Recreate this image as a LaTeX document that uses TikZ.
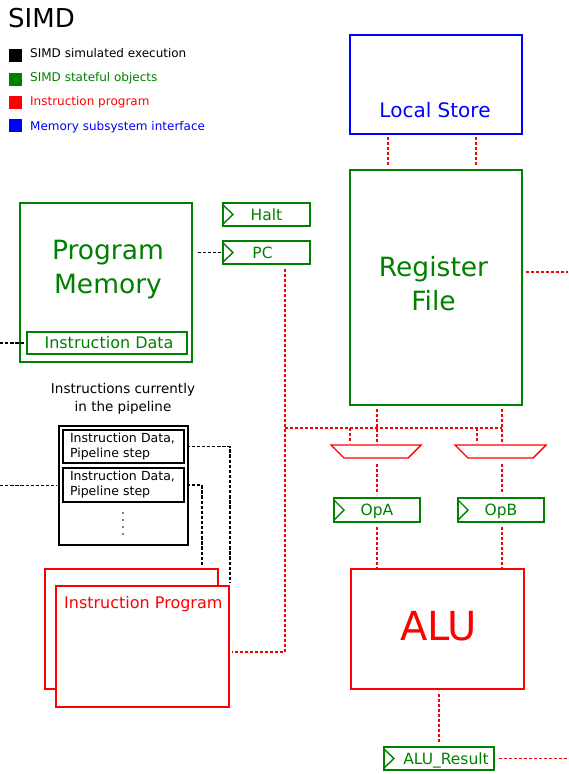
\documentclass[tikz,border=0pt]{standalone}
\usepackage{fontspec}
\setmainfont{DejaVu Sans}
\usetikzlibrary{calc}
\definecolor{objgreen}{RGB}{0,128,0}
\definecolor{progred}{RGB}{255,0,0}
\definecolor{memblue}{RGB}{0,0,255}

\begin{document}
\begin{tikzpicture}[x=1pt,y=-1pt,
  box/.style={draw, line width=1.4pt, inner sep=0pt},
  statebox/.style={box, draw=objgreen, text=objgreen},
  progbox/.style={box, draw=progred, text=progred},
  reg/.style={statebox, minimum width=87pt, minimum height=23pt,
    font=\fontsize{15.5}{18}\selectfont, text height=11.3pt, text depth=0pt,
    path picture={\draw[objgreen, line width=1.4pt]
      ([yshift=-2pt]path picture bounding box.north west) --
      ([xshift=10pt]path picture bounding box.west) --
      ([yshift=2pt]path picture bounding box.south west);}},
  pipestep/.style={box, draw=black, line width=1.3pt, minimum width=121pt,
    minimum height=33pt, align=left, text width=107pt, inner xsep=7pt,
    font=\fontsize{12.5}{15}\selectfont},
  legendtext/.style={anchor=base west, inner sep=0pt, font=\fontsize{12}{14}\selectfont},
  reddot/.style={draw=progred, line width=1.6pt, dash pattern=on 3pt off 2pt},
  blackdash/.style={draw=black, line width=1.7pt, dash pattern=on 3.3pt off 1.8pt},
]
\useasboundingbox (0,0) rectangle (568,774);

% legend
\node[anchor=base west, inner sep=0pt, font=\fontsize{26}{30}\selectfont] (title) at (8,27) {SIMD};
\fill[black]    (9,49)  rectangle ++(13,13);
\fill[objgreen] (9,73)  rectangle ++(13,13);
\fill[progred]  (9,96)  rectangle ++(13,13);
\fill[memblue]  (9,119) rectangle ++(13,13);
\node[legendtext] (lg1) at (30,57) {SIMD simulated execution};
\node[legendtext, text=objgreen] (lg2) at (30,81.5) {SIMD stateful objects};
\node[legendtext, text=progred] (lg3) at (30,105) {Instruction program};
\node[legendtext, text=memblue] (lg4) at (30,130) {Memory subsystem interface};

% memory side
\node[box, draw=memblue, minimum width=172pt, minimum height=99pt] (LS) at (436,84.5) {};
\node[text=memblue, font=\fontsize{20}{24}\selectfont] (LSlabel) at (435,110.4) {Local Store};

\node[statebox, minimum width=172pt, minimum height=235pt] (RF) at (436,287.5) {};
\node[text=objgreen, align=center, font=\fontsize{26.5}{34}\selectfont] (RFlabel) at (433.5,283.5) {Register\\File};

\node[statebox, minimum width=172pt, minimum height=159pt] (PM) at (106,282.5) {};
\node[text=objgreen, align=center, font=\fontsize{26.5}{34}\selectfont] (PMlabel) at (108,270) {Program\\Memory};
\node[statebox, minimum width=160pt, minimum height=22pt, font=\fontsize{16}{19}\selectfont,
  text height=11.7pt, text depth=0pt] (ID) at (107,343) {\hspace*{4pt}Instruction Data};

% registers
\node[reg] (Halt) at (266.5,214.5) {Halt};
\node[reg] (PC) at (266.5,252.5) {PC\hspace*{8pt}};
\node[reg, minimum width=86pt, minimum height=24pt] (OpA) at (377,510) {OpA};
\node[reg, minimum width=86pt, minimum height=24pt] (OpB) at (501,510) {OpB};
\node[reg, minimum width=110pt] (Res) at (439,758.5) {\hspace*{14pt}ALU\_Result};

% ALU
\node[progbox, minimum width=173pt, minimum height=120pt, font=\fontsize{40}{48}\selectfont,
  text height=29.2pt, text depth=6pt] (ALU) at (437.5,629) {\hspace*{2pt}ALU};

% instruction program (stacked)
\node[progbox, minimum width=173pt, minimum height=120pt] (IPb) at (131.5,629) {};
\node[progbox, fill=white, minimum width=173pt, minimum height=121pt] (IPf) at (142.5,646.5) {};
\node[text=progred, anchor=base west, inner sep=0pt, font=\fontsize{16}{19}\selectfont] (IPlabel) at (64,608) {Instruction Program};

% pipeline
\node[align=center, font=\fontsize{13.5}{18}\selectfont] (PLlabel) at (123,399) {Instructions currently\\in the pipeline};
\node[box, draw=black, line width=1.3pt, minimum width=129pt, minimum height=119pt] (PL) at (123.5,485.5) {};
\node[pipestep] (S1) at (123.5,446.5) {Instruction Data,\\Pipeline step};
\node[pipestep, minimum height=34pt] (S2) at (123.5,485) {Instruction Data,\\Pipeline step};
\foreach \yy in {513,520,527,534} \fill (123,\yy) circle (0.8pt);

% operand multiplexers
\coordinate (muxA) at (376,451.5);
\coordinate (muxB) at (500.5,451.5);
\draw[draw=progred, line width=1.4pt] ([shift={(-45,-6.5)}]muxA) -- ++(90,0) -- ++(-13,13) -- ++(-64,0) -- cycle;
\draw[draw=progred, line width=1.4pt] ([shift={(-45.5,-6.5)}]muxB) -- ++(91,0) -- ++(-13,13) -- ++(-65,0) -- cycle;
\coordinate (muxAin1) at (350,445);
\coordinate (muxAin2) at (377,445);
\coordinate (muxBin1) at (477,445);
\coordinate (muxBin2) at (502,445);
\coordinate (muxAout) at (377,458);
\coordinate (muxBout) at (502,458);

% free ends and turns
\coordinate (leftedge) at (0,0);
\coordinate (rightedge) at (568,0);
\coordinate (rfout) at (568,272);
\coordinate (busL) at (285,428);
\coordinate (busR) at (502,428);
\coordinate (pcturn) at (285,652);

% red connectors
\draw[reddot, shorten <=2pt, shorten >=4pt] ([xshift=-48pt]LS.south) -- ([xshift=-48pt]RF.north);
\draw[reddot, shorten <=2pt, shorten >=4pt] ([xshift=40pt]LS.south) -- ([xshift=40pt]RF.north);
\draw[reddot, shorten <=3pt] (RF.east |- rfout) -- (rfout);
\draw[reddot, shorten <=4pt, shorten >=2pt] (PC.south -| busL) -- (pcturn) -- (pcturn -| IPf.east);
\draw[reddot] (busL) -- (busR);
\draw[reddot, shorten <=3pt, shorten >=2pt] (RF.south -| muxAin2) -- (muxAin2);
\draw[reddot, shorten <=3pt, shorten >=2pt] (RF.south -| muxBin2) -- (muxBin2);
\draw[reddot, shorten >=2pt] (busL -| muxAin1) -- (muxAin1);
\draw[reddot, shorten >=2pt] (busL -| muxBin1) -- (muxBin1);
\draw[reddot, shorten <=6pt, shorten >=4pt] (muxAout) -- (OpA.north -| muxAout);
\draw[reddot, shorten <=6pt, shorten >=4pt] (muxBout) -- (OpB.north -| muxBout);
\draw[reddot, shorten <=4pt] (OpA.south) -- (OpA.south |- ALU.north);
\draw[reddot, shorten <=4pt] (OpB.south -| muxBout) -- (ALU.north -| muxBout);
\draw[reddot, shorten <=4pt, shorten >=3pt] (ALU.south -| Res.north) -- (Res.north);
\draw[reddot, shorten <=4pt] (Res.east) -- (Res.east -| rightedge);

% black connectors
\draw[blackdash, shorten <=5pt, shorten >=1pt] (PM.east |- PC.west) -- (PC.west);
\draw[blackdash, shorten >=1pt] (ID.west -| leftedge) -- (ID.west);
\draw[blackdash, shorten >=2pt] (PL.west -| leftedge) -- (PL.west);
\draw[blackdash, shorten <=2pt, shorten >=3pt] (S1.east) -| (IPf.north east);
\draw[blackdash, shorten <=2pt, shorten >=2pt] (S2.east) -| ([xshift=-17pt]IPb.north east);
\end{tikzpicture}
\end{document}
